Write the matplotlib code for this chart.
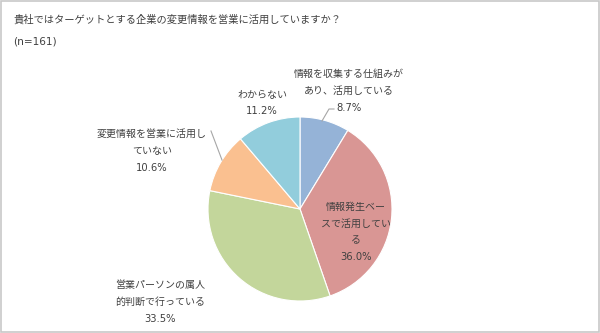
import matplotlib
matplotlib.use("Agg")
import matplotlib.pyplot as plt
from matplotlib.patches import Rectangle

# 英数字は幅の広い DejaVu、日本語は Noto CJK で描く
plt.rcParams['font.family'] = ['DejaVu Sans', 'Noto Sans CJK JP']

# データ
labels = ["情報を収集する仕組みが\nあり、活用している",
          "情報発生ベー\nスで活用してい\nる",
          "営業パーソンの属人\n的判断で行っている",
          "変更情報を営業に活用し\nていない",
          "わからない"]
values = [8.7, 36.0, 33.5, 10.6, 11.2]
colors = ["#95B3D7", "#D99694", "#C3D69B", "#FAC090", "#92CDDC"]
title = "貴社ではターゲットとする企業の変更情報を営業に活用していますか？"
subtitle = "(n=161)"

TXT = "#404040"
W, H = 600, 333
cx, cy, r = 300, 209, 92

fig = plt.figure(figsize=(W / 100, H / 100), dpi=100)
fig.patch.set_facecolor("white")
fig.add_artist(Rectangle((0.002, 0.004), 0.996, 0.992, transform=fig.transFigure,
                         fill=False, edgecolor="#C8C8C8", linewidth=1.2))

ax = fig.add_axes([(cx - r) / W, (H - cy - r) / H, 2 * r / W, 2 * r / H])
ax.pie(values, colors=colors, startangle=90, counterclock=False,
       wedgeprops=dict(edgecolor="white", linewidth=0.8))
ax.set_xlim(-1, 1)
ax.set_ylim(-1, 1)
ax.set_aspect("equal")
ax.axis("off")


def px(x, y):
    # ピクセル位置 -> 円の座標
    return (x - cx) / r, (cy - y) / r


label_pos = [(349, 91), (356, 232), (160, 302), (152, 151), (262, 103)]
for lab, val, (x, y) in zip(labels, values, label_pos):
    tx, ty = px(x, y)
    ax.text(tx, ty, f"{lab}\n{val:.1f}%", ha="center", va="center",
            fontsize=7.2, color=TXT, linespacing=1.85, clip_on=False)

# 引き出し線
leaders = [[(334, 109), (329, 109), (322, 121)],
           [(211, 131), (222, 160)]]
for pts in leaders:
    xs, ys = zip(*[px(a, b) for a, b in pts])
    ax.plot(xs, ys, color="#A6A6A6", linewidth=0.8, clip_on=False)

fig.text(13 / W, 1 - 19 / H, title, fontsize=7.4, color=TXT, va="center", ha="left")
fig.text(13 / W, 1 - 42 / H, subtitle, fontsize=7.6, color=TXT, va="center", ha="left")

fig.savefig("out.png", dpi=100)
